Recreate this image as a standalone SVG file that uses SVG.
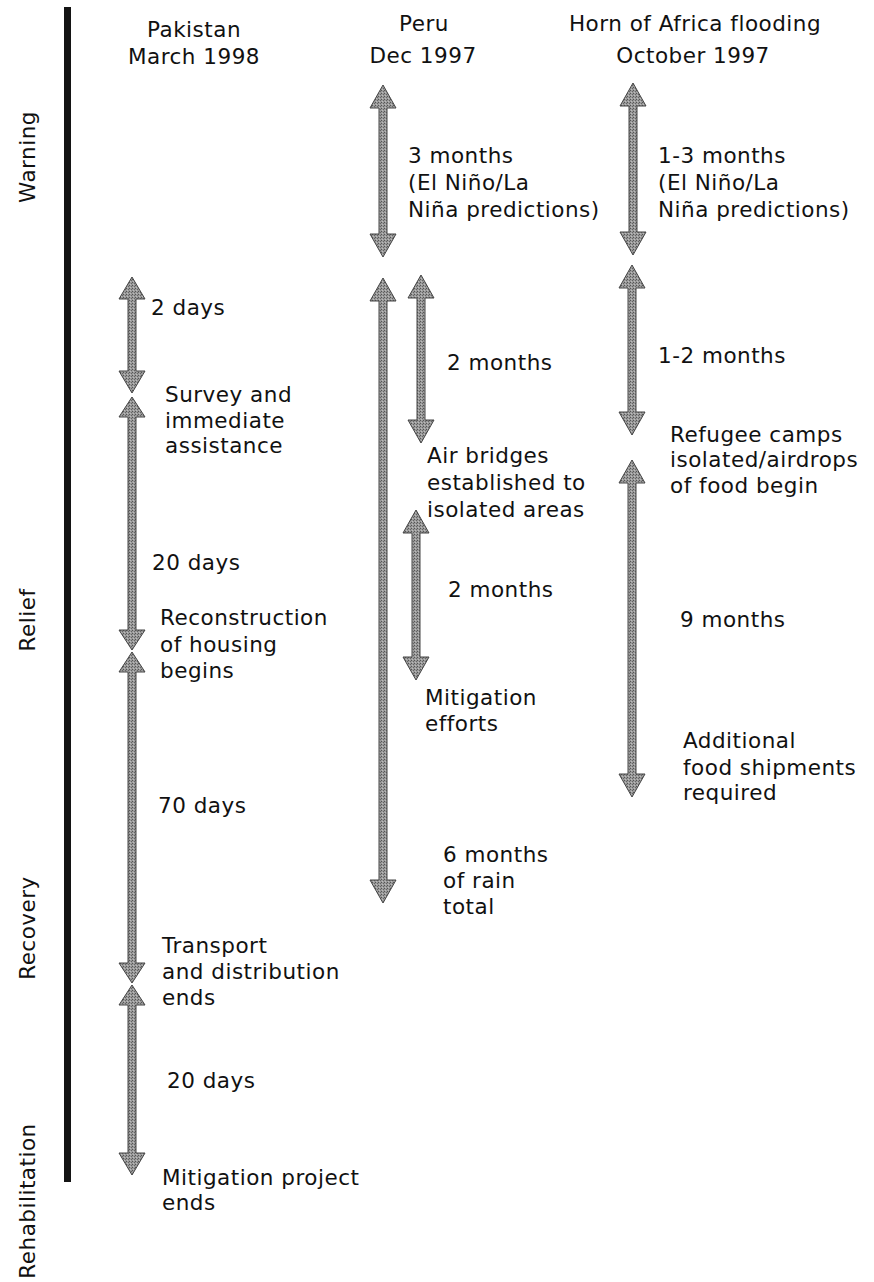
<svg xmlns="http://www.w3.org/2000/svg" width="874" height="1282" viewBox="0 0 874 1282">
<style>
text{font-family:"DejaVu Sans","Liberation Sans",sans-serif;font-size:21.5px;fill:#111;letter-spacing:0.5px}
.h{text-anchor:middle}
.side{text-anchor:middle}
.arr{fill:url(#stipple);stroke:#444;stroke-width:1}
</style>
<defs>
<pattern id="stipple" width="3" height="3" patternUnits="userSpaceOnUse">
<rect width="3" height="3" fill="#9a9a9a"/>
<rect x="0" y="0" width="1" height="1" fill="#555"/>
<rect x="2" y="1" width="1" height="1" fill="#666"/>
<rect x="1" y="2" width="1" height="1" fill="#bbb"/>
</pattern>
</defs>
<rect width="874" height="1282" fill="#fff"/>
<g id="phase-axis">
<rect x="64" y="7" width="7" height="1175" fill="#141414"/>
<text class="side" transform="translate(35,157) rotate(-90)">Warning</text>
<text class="side" transform="translate(35,620) rotate(-90)">Relief</text>
<text class="side" transform="translate(35,928) rotate(-90)">Recovery</text>
<text class="side" transform="translate(35,1201) rotate(-90)">Rehabilitation</text>
</g>
<g id="headers">
<text class="h" x="194" y="37">Pakistan</text>
<text class="h" x="194" y="64">March 1998</text>
<text class="h" x="424" y="31">Peru</text>
<text class="h" x="423" y="63">Dec 1997</text>
<text class="h" x="695" y="31">Horn of Africa flooding</text>
<text class="h" x="693" y="63">October 1997</text>
</g>
<g id="connectors">
<path class="arr" d="M132,277 L145,299 L136,299 L136,371 L145,371 L132,393 L119,371 L128,371 L128,299 L119,299 Z"/>
<path class="arr" d="M132,397 L145,417 L136,417 L136,630 L145,630 L132,650 L119,630 L128,630 L128,417 L119,417 Z"/>
<path class="arr" d="M132,652 L145,672 L136,672 L136,963 L145,963 L132,983 L119,963 L128,963 L128,672 L119,672 Z"/>
<path class="arr" d="M132,985 L145,1005 L136,1005 L136,1153 L145,1153 L132,1175 L119,1153 L128,1153 L128,1005 L119,1005 Z"/>
<path class="arr" d="M383,85 L396,108 L387,108 L387,234 L396,234 L383,257 L370,234 L379,234 L379,108 L370,108 Z"/>
<path class="arr" d="M383,278 L396,301 L387,301 L387,880 L396,880 L383,903 L370,880 L379,880 L379,301 L370,301 Z"/>
<path class="arr" d="M421,275 L434,298 L425,298 L425,420 L434,420 L421,443 L408,420 L417,420 L417,298 L408,298 Z"/>
<path class="arr" d="M416,510 L429,533 L420,533 L420,657 L429,657 L416,680 L403,657 L412,657 L412,533 L403,533 Z"/>
<path class="arr" d="M633,83 L646,106 L637,106 L637,232 L646,232 L633,255 L620,232 L629,232 L629,106 L620,106 Z"/>
<path class="arr" d="M632,265 L645,288 L636,288 L636,412 L645,412 L632,435 L619,412 L628,412 L628,288 L619,288 Z"/>
<path class="arr" d="M632,460 L645,483 L636,483 L636,774 L645,774 L632,797 L619,774 L628,774 L628,483 L619,483 Z"/>
</g>
<g id="pakistan-labels">
<text x="151" y="315">2 days</text>
<text x="165" y="402">Survey and</text>
<text x="165" y="428">immediate</text>
<text x="165" y="453">assistance</text>
<text x="152" y="570">20 days</text>
<text x="160" y="625">Reconstruction</text>
<text x="160" y="652">of housing</text>
<text x="160" y="678">begins</text>
<text x="158" y="813">70 days</text>
<text x="162" y="953">Transport</text>
<text x="162" y="979">and distribution</text>
<text x="162" y="1005">ends</text>
<text x="167" y="1088">20 days</text>
<text x="162" y="1185">Mitigation project</text>
<text x="162" y="1210">ends</text>
</g>
<g id="peru-labels">
<text x="408" y="163">3 months</text>
<text x="408" y="190">(El Niño/La</text>
<text x="408" y="217">Niña predictions)</text>
<text x="447" y="370">2 months</text>
<text x="427" y="463">Air bridges</text>
<text x="427" y="490">established to</text>
<text x="427" y="517">isolated areas</text>
<text x="448" y="597">2 months</text>
<text x="425" y="705">Mitigation</text>
<text x="425" y="731">efforts</text>
<text x="443" y="862">6 months</text>
<text x="443" y="888">of rain</text>
<text x="443" y="914">total</text>
</g>
<g id="horn-labels">
<text x="658" y="163">1-3 months</text>
<text x="658" y="190">(El Niño/La</text>
<text x="658" y="217">Niña predictions)</text>
<text x="658" y="363">1-2 months</text>
<text x="670" y="442">Refugee camps</text>
<text x="670" y="467">isolated/airdrops</text>
<text x="670" y="493">of food begin</text>
<text x="680" y="627">9 months</text>
<text x="683" y="748">Additional</text>
<text x="683" y="775">food shipments</text>
<text x="683" y="800">required</text>
</g>
</svg>
